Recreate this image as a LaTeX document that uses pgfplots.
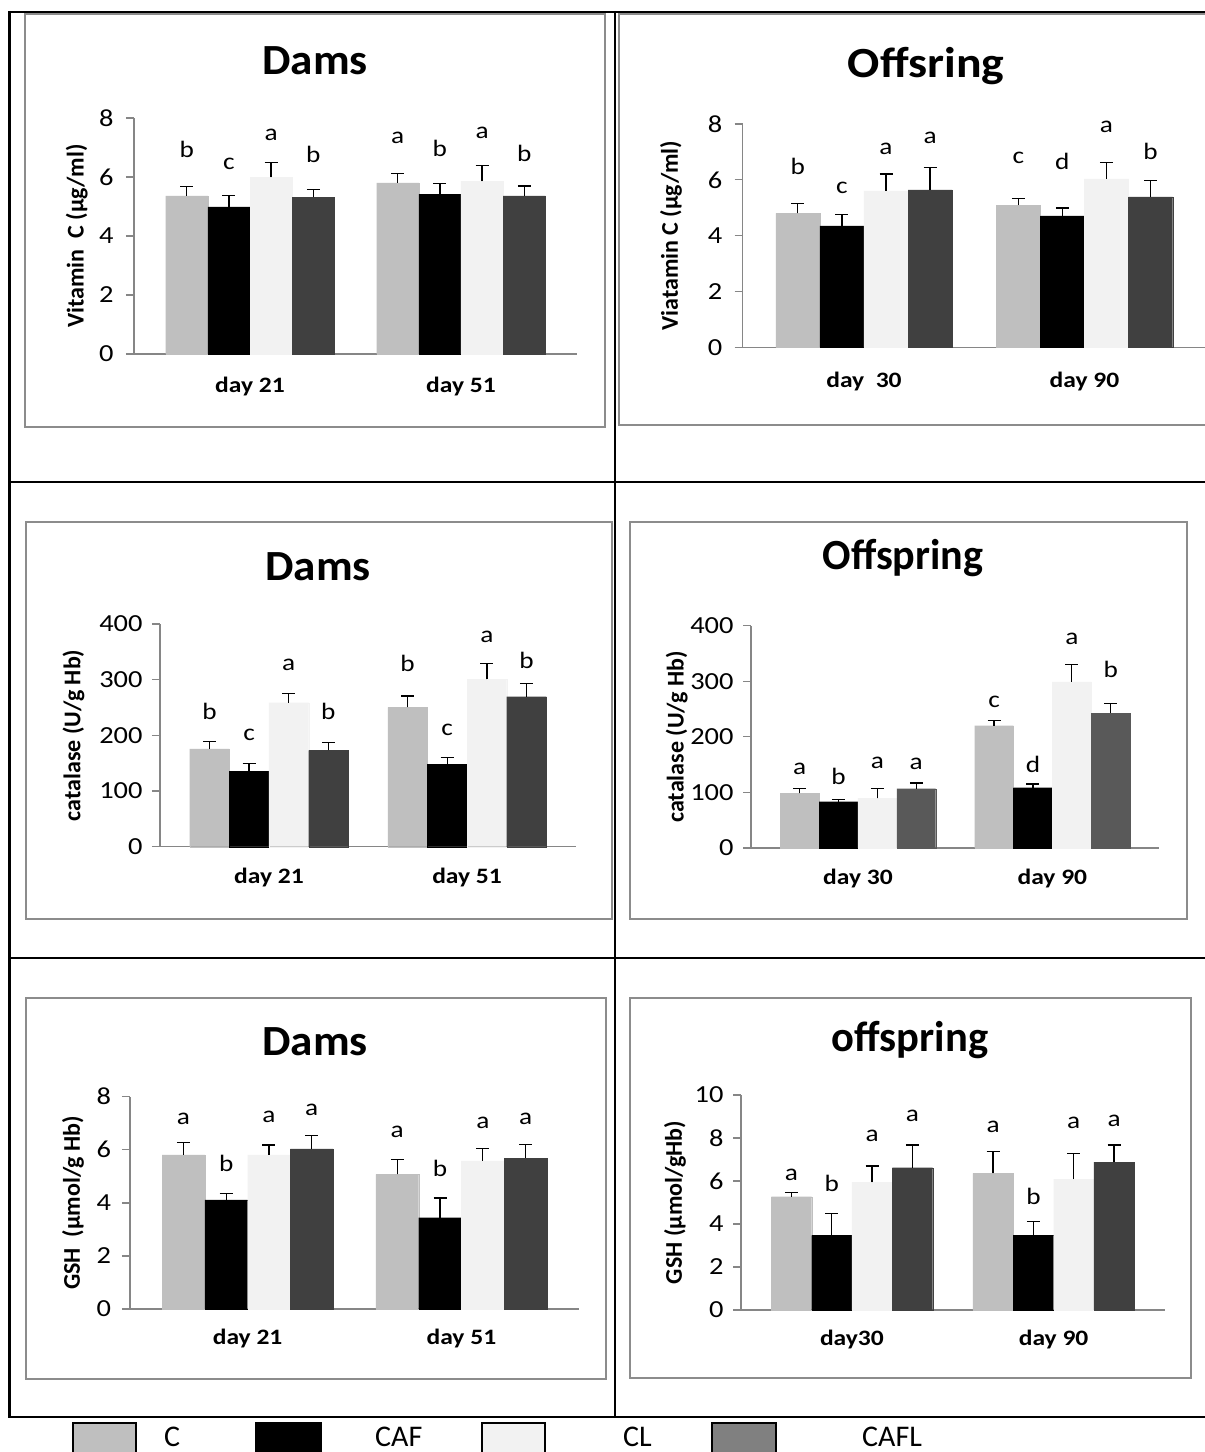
\documentclass[border=0pt]{standalone}
\usepackage{fontspec}
\setmainfont{Carlito}
\newfontfamily\chartfont{Carlito}[FakeStretch=1.16]
\usepackage{graphicx}
\usepackage{pgfplots}
\pgfplotsset{compat=1.18}
\usepackage{pgfplotstable}
\definecolor{cC}{HTML}{BFBFBF}
\definecolor{cCAF}{HTML}{000000}
\definecolor{cCL}{HTML}{F2F2F2}
\definecolor{cCAFL}{HTML}{404040}
\definecolor{cCAFLb}{HTML}{595959}
\definecolor{cLeg}{HTML}{808080}
\definecolor{axisgray}{HTML}{868686}
\definecolor{boxgray}{HTML}{8C8C8C}

% Dams, vitamin C
\pgfplotstableread{
x C Ce CAF CAFe CL CLe CAFL CAFLe
0 5.36 0.31 4.99 0.39 5.99 0.49 5.31 0.27
1 5.80 0.32 5.42 0.37 5.85 0.55 5.36 0.33
}\tA
% Offspring, vitamin C
\pgfplotstableread{
x C Ce CAF CAFe CL CLe CAFL CAFLe
0 4.80 0.35 4.35 0.40 5.60 0.61 5.64 0.81
1 5.09 0.25 4.71 0.28 6.03 0.59 5.39 0.58
}\tB
% Dams, catalase
\pgfplotstableread{
x C Ce CAF CAFe CL CLe CAFL CAFLe
0 175.5 13.8 135.4 14.4 258.7 16.1 173.2 13.6
1 250.4 20.3 148.0 11.9 300.7 28.7 269.4 24.1
}\tC
% Offspring, catalase
\pgfplotstableread{
x C Ce CAF CAFe CL CLe CAFL CAFLe
0 98.4 8.3 83.3 3.6 89.4 17.3 106.7 10.2
1 220.0 9.8 108.5 6.6 298.7 31.8 242.9 16.7
}\tD
% Dams, GSH
\pgfplotstableread{
x C Ce CAF CAFe CL CLe CAFL CAFLe
0 5.81 0.47 4.11 0.24 5.81 0.37 6.03 0.50
1 5.07 0.56 3.44 0.74 5.58 0.48 5.69 0.50
}\tE
% offspring, GSH
\pgfplotstableread{
x C Ce CAF CAFe CL CLe CAFL CAFLe
0 5.27 0.19 3.47 1.03 5.94 0.76 6.62 1.05
1 6.36 1.02 3.47 0.64 6.09 1.18 6.88 0.79
}\tF

\newcommand{\tickfont}{\chartfont\fontsize{24.5}{28}\selectfont}
\newcommand{\daysfont}{\chartfont\bfseries\fontsize{22}{26}\selectfont}
\newcommand{\ylfont}{\bfseries\fontsize{24}{28}\selectfont}
\newcommand{\letfont}{\chartfont\fontsize{23.5}{27}\selectfont}
\newcommand{\titfont}{\bfseries\fontsize{43}{50}\selectfont}

\pgfplotsset{
  panel/.style={
    scale only axis, anchor=south west,
    xmin=-0.55, xmax=1.55, ymin=0,
    axis x line*=bottom, axis y line*=left,
    axis line style={draw=axisgray, line width=1.3pt},
    xtick={0,1},
    tick align=outside,
    major tick length=8pt,
    x tick style={draw=none},
    y tick style={draw=axisgray, line width=1.3pt},
    tick label style={font=\tickfont},
    xticklabel style={font=\daysfont},
    ylabel style={font=\ylfont, anchor=center},
    /pgf/number format/assume math mode=true,
    ybar, bar width=0.2,
    clip=false,
  },
  errb/.style={error bars/y dir=plus, error bars/y explicit,
    error bars/error bar style={black, line width=1.3pt},
    error bars/error mark options={rotate=90, black, line width=1.3pt, mark size=6.5pt}},
  bC/.style={fill=cC, draw=cC, line width=0.1pt, bar shift=-0.3, errb},
  bCAF/.style={fill=cCAF, draw=cCAF, line width=0.1pt, bar shift=-0.1, errb},
  bCL/.style={fill=cCL, draw=cCL, line width=0.1pt, bar shift=0.1, errb},
  bCAFL/.style={fill=cCAFL, draw=cCAFL, line width=0.1pt, bar shift=0.3, errb},
}
\newcommand{\fourbars}[1]{%
  \addplot[bC] table[x=x, y=C, y error=Ce] {#1};
  \addplot[bCAF] table[x=x, y=CAF, y error=CAFe] {#1};
  \addplot[bCL] table[x=x, y=CL, y error=CLe] {#1};
}

\begin{document}
\begin{tikzpicture}[x=1pt, y=1pt]
% table grid
\begin{scope}[line width=2.5pt, black]
\draw (8,1452-12) -- (1215,1452-12);
\draw (8,1452-482) -- (1215,1452-482);
\draw (8,1452-958) -- (1215,1452-958);
\draw (8,1452-1417) -- (1215,1452-1417);
\draw (9.5,1452-11) -- (9.5,1452-1418);
\draw (615,1452-11) -- (615,1452-1418);
\end{scope}
% chart boxes
\begin{scope}[draw=boxgray, line width=2pt, fill=white]
\filldraw (25,1452-14) rectangle (605,1452-427);
\filldraw (619,1452-14) rectangle (1220,1452-425);
\filldraw (26,1452-522) rectangle (612,1452-919);
\filldraw (630,1452-522) rectangle (1187,1452-919);
\filldraw (26,1452-998) rectangle (606,1452-1379);
\filldraw (630,1452-998) rectangle (1191,1452-1378);
\end{scope}
% titles
\node[anchor=base, font=\titfont] at (315,1452-75) {\scalebox{1.05}[1]{Dams}};
\node[anchor=base, font=\titfont] at (926,1452-78) {\scalebox{1.11}[1]{Offsring}};
\node[anchor=base, font=\titfont] at (318,1452-581) {\scalebox{1.05}[1]{Dams}};
\node[anchor=base, font=\titfont] at (903,1452-570) {\scalebox{0.98}[1]{Offspring}};
\node[anchor=base, font=\titfont] at (315,1452-1056) {\scalebox{1.05}[1]{Dams}};
\node[anchor=base, font=\titfont] at (910,1452-1052) {\scalebox{0.99}[1]{offspring}};

% Panel 1: Dams vitamin C
\begin{axis}[panel, at={(134pt,1098pt)}, width=443pt, height=236pt,
  ymax=8, ytick={0,2,4,6,8},
  xticklabels={day 21,day 51},
  xticklabel style={yshift=-12pt},
  yticklabel style={xshift=-9pt},
  ylabel={Vitamin\ \ C (µg/ml)},
  ylabel style={at={(axis description cs:-0.129,0.5)}}]
\fourbars{\tA}
\addplot[bCAFL] table[x=x, y=CAFL, y error=CAFLe] {\tA};
\begin{scope}[font=\letfont]
\node at (axis cs:-0.3,6.92) {b}; \node at (axis cs:-0.1,6.44) {c};
\node at (axis cs:0.1,7.42) {a};  \node at (axis cs:0.3,6.75) {b};
\node at (axis cs:0.7,7.31) {a};  \node at (axis cs:0.9,6.97) {b};
\node at (axis cs:1.1,7.50) {a};  \node at (axis cs:1.3,6.80) {b};
\end{scope}
\end{axis}

% Panel 2: Offspring vitamin C
\begin{axis}[panel, at={(742.7pt,1104.7pt)}, width=463pt, height=223.3pt,
  ymax=8, ytick={0,2,4,6,8},
  xticklabels={day\ \ 30,day 90},
  xticklabel style={yshift=-13pt},
  yticklabel style={xshift=-9pt},
  ylabel={Viatamin C (µg/ml)},
  ylabel style={at={(axis description cs:-0.155,0.5)}}]
\fourbars{\tB}
\addplot[bCAFL] table[x=x, y=CAFL, y error=CAFLe] {\tB};
\begin{scope}[font=\letfont]
\node at (axis cs:-0.3,6.47) {b}; \node at (axis cs:-0.1,5.70) {c};
\node at (axis cs:0.1,7.10) {a};  \node at (axis cs:0.3,7.49) {a};
\node at (axis cs:0.7,6.77) {c};  \node at (axis cs:0.9,6.65) {d};
\node at (axis cs:1.1,7.91) {a};  \node at (axis cs:1.3,7.01) {b};
\end{scope}
\end{axis}

% Panel 3: Dams catalase
\begin{axis}[panel, at={(160pt,605.3pt)}, width=416pt, height=222.7pt,
  ymax=400, ytick={0,100,200,300,400},
  xticklabels={day 21,day 51},
  xticklabel style={yshift=-10pt},
  yticklabel style={xshift=-6pt},
  ylabel={catalase (U/g Hb)},
  ylabel style={at={(axis description cs:-0.208,0.5)}}]
\fourbars{\tC}
\addplot[bCAFL] table[x=x, y=CAFL, y error=CAFLe] {\tC};
\begin{scope}[font=\letfont]
\node at (axis cs:-0.3,243.8) {b}; \node at (axis cs:-0.1,200.7) {c};
\node at (axis cs:0.1,326.6) {a};  \node at (axis cs:0.3,243.8) {b};
\node at (axis cs:0.7,329.4) {b};  \node at (axis cs:0.9,209.6) {c};
\node at (axis cs:1.1,377.2) {a};  \node at (axis cs:1.3,335.4) {b};
\end{scope}
\end{axis}

% Panel 4: Offspring catalase
\begin{axis}[panel, at={(751pt,604pt)}, width=408.3pt, height=222.3pt,
  ymax=400, ytick={0,100,200,300,400},
  xticklabels={day 30,day 90},
  xticklabel style={yshift=-10pt},
  yticklabel style={xshift=-6pt},
  ylabel={catalase (U/g Hb)},
  ylabel style={at={(axis description cs:-0.182,0.5)}}]
\fourbars{\tD}
\addplot[fill=cCAFLb, draw=cCAFLb, line width=0.1pt, bar shift=0.3, errb] table[x=x, y=CAFL, y error=CAFLe] {\tD};
\begin{scope}[font=\letfont]
\node at (axis cs:-0.3,141.6) {a}; \node at (axis cs:-0.1,128.3) {b};
\node at (axis cs:0.1,152.4) {a};  \node at (axis cs:0.3,152.0) {a};
\node at (axis cs:0.7,263.2) {c};  \node at (axis cs:0.9,151.1) {d};
\node at (axis cs:1.1,375.5) {a};  \node at (axis cs:1.3,321.5) {b};
\end{scope}
\end{axis}

% Panel 5: Dams GSH
\begin{axis}[panel, at={(130pt,143pt)}, width=449pt, height=212.3pt,
  ymax=8, ytick={0,2,4,6,8},
  xticklabels={day 21,day 51},
  xticklabel style={yshift=-9pt},
  yticklabel style={xshift=-7.5pt},
  ylabel={GSH\ \ (µmol/g Hb)},
  ylabel style={at={(axis description cs:-0.127,0.5)}}]
\fourbars{\tE}
\addplot[bCAFL] table[x=x, y=CAFL, y error=CAFLe] {\tE};
\begin{scope}[font=\letfont]
\node at (axis cs:-0.3,7.18) {a}; \node at (axis cs:-0.1,5.49) {b};
\node at (axis cs:0.1,7.25) {a};  \node at (axis cs:0.3,7.52) {a};
\node at (axis cs:0.7,6.68) {a};  \node at (axis cs:0.9,5.30) {b};
\node at (axis cs:1.1,7.02) {a};  \node at (axis cs:1.3,7.18) {a};
\end{scope}
\end{axis}

% Panel 6: offspring GSH
\begin{axis}[panel, at={(741pt,142pt)}, width=423.5pt, height=215pt,
  ymax=10, ytick={0,2,4,6,8,10},
  xticklabels={day30,day 90},
  xticklabel style={yshift=-9pt},
  yticklabel style={xshift=-6pt},
  ylabel={GSH (µmol/gHb)},
  ylabel style={at={(axis description cs:-0.156,0.5)}}]
\fourbars{\tF}
\addplot[bCAFL] table[x=x, y=CAFL, y error=CAFLe] {\tF};
\begin{scope}[font=\letfont]
\node at (axis cs:-0.3,6.28) {a}; \node at (axis cs:-0.1,5.89) {b};
\node at (axis cs:0.1,8.09) {a};  \node at (axis cs:0.3,9.02) {a};
\node at (axis cs:0.7,8.53) {a};  \node at (axis cs:0.9,5.27) {b};
\node at (axis cs:1.1,8.71) {a};  \node at (axis cs:1.3,8.80) {a};
\end{scope}
\end{axis}

% legend
\begin{scope}[line width=2pt, draw=black]
\filldraw[fill=cC] (73,1452-1423) rectangle (136,-10);
\filldraw[fill=cCAF] (256,1452-1423) rectangle (321,-10);
\filldraw[fill=cCL] (482,1452-1423) rectangle (545,-10);
\filldraw[fill=cLeg] (712,1452-1423) rectangle (776,-10);
\end{scope}
\begin{scope}[font=\fontsize{30}{34}\selectfont, inner sep=0pt]
\node[anchor=base west] at (164,5.5) {C};
\node[anchor=base west] at (375,5.5) {CAF};
\node[anchor=base west] at (623,5.5) {CL};
\node[anchor=base west] at (862,5.5) {CAFL};
\end{scope}

\pgfresetboundingbox
\useasboundingbox (0,0) rectangle (1205,1452);
\end{tikzpicture}
\end{document}
